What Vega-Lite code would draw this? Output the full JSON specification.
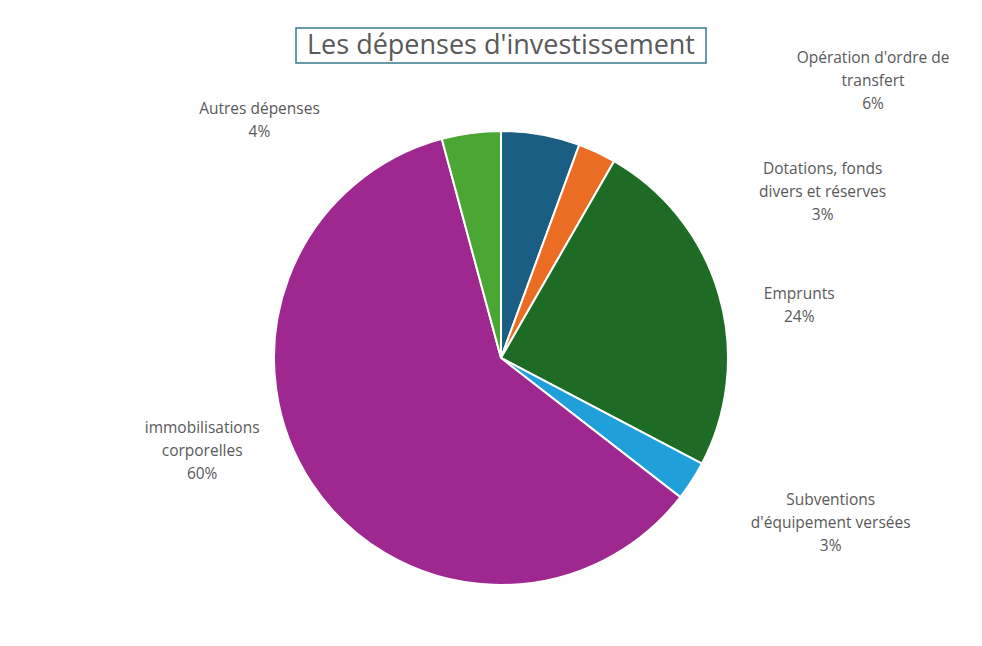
{
  "$schema": "https://vega.github.io/schema/vega-lite/v6.json",
  "padding": {"left": 40, "top": 27, "right": 20, "bottom": 4},
  "background": "white",
  "bounds": "flush",
  "spacing": 10,
  "center": true,
  "config": {
    "font": "Open Sans",
    "view": {"stroke": null},
    "text": {"font": "Open Sans", "color": "#595959", "fontSize": 15.5, "lineBreak": "\n", "lineHeight": 23}
  },
  "datasets": {
    "depenses": [
      {"ordre": 1, "categorie": "Opération d'ordre de transfert", "part": 5.6, "etiquette": "Opération d'ordre de\ntransfert\n6%"},
      {"ordre": 2, "categorie": "Dotations, fonds divers et réserves", "part": 2.7, "etiquette": "Dotations, fonds\ndivers et réserves\n3%"},
      {"ordre": 3, "categorie": "Emprunts", "part": 24.4, "etiquette": "Emprunts\n24%"},
      {"ordre": 4, "categorie": "Subventions d'équipement versées", "part": 2.8, "etiquette": "Subventions\nd'équipement versées\n3%"},
      {"ordre": 5, "categorie": "immobilisations corporelles", "part": 60.3, "etiquette": "immobilisations\ncorporelles\n60%"},
      {"ordre": 6, "categorie": "Autres dépenses", "part": 4.2, "etiquette": "Autres dépenses\n4%"}
    ],
    "titre": [{"texte": "Les dépenses d'investissement"}]
  },
  "vconcat": [
    {
      "width": 410,
      "height": 35,
      "view": {"stroke": "#3A7A8C", "strokeWidth": 1.5},
      "data": {"name": "titre"},
      "mark": {"type": "text", "fontSize": 27, "color": "#595959", "align": "center", "baseline": "middle"},
      "encoding": {"text": {"field": "texte", "type": "nominal"}}
    },
    {
      "width": 922,
      "height": 570,
      "view": {"stroke": null},
      "data": {"name": "depenses"},
      "transform": [
        {"stack": "part", "groupby": [], "sort": [{"field": "ordre", "order": "ascending"}], "as": ["debut", "fin"]}
      ],
      "layer": [
        {
          "mark": {"type": "arc", "radius": 227, "stroke": "white", "strokeWidth": 2},
          "encoding": {
            "theta": {"field": "debut", "type": "quantitative", "stack": null, "scale": {"domain": [0, 100]}},
            "theta2": {"field": "fin"},
            "color": {
              "field": "categorie", "type": "nominal", "legend": null,
              "scale": {
                "domain": ["Opération d'ordre de transfert", "Dotations, fonds divers et réserves", "Emprunts", "Subventions d'équipement versées", "immobilisations corporelles", "Autres dépenses"],
                "range": ["#1A5E83", "#EB6D24", "#1D6B25", "#1FA0DA", "#9E2890", "#4CA633"]
              }
            }
          }
        },
        {
          "transform": [{"filter": "datum.ordre === 1"}],
          "mark": {"type": "text", "radius": 478, "thetaOffset": 0.892, "align": "center", "baseline": "middle"},
          "encoding": {"theta": {"field": "debut", "type": "quantitative", "stack": null}, "text": {"field": "etiquette"}}
        },
        {
          "transform": [{"filter": "datum.ordre === 2"}],
          "mark": {"type": "text", "radius": 373, "thetaOffset": 0.688, "align": "center", "baseline": "middle"},
          "encoding": {"theta": {"field": "debut", "type": "quantitative", "stack": null}, "text": {"field": "etiquette"}}
        },
        {
          "transform": [{"filter": "datum.ordre === 3"}],
          "mark": {"type": "text", "radius": 305, "thetaOffset": 0.838, "align": "center", "baseline": "middle"},
          "encoding": {"theta": {"field": "debut", "type": "quantitative", "stack": null}, "text": {"field": "etiquette"}}
        },
        {
          "transform": [{"filter": "datum.ordre === 4"}],
          "mark": {"type": "text", "radius": 359, "thetaOffset": -0.077, "align": "center", "baseline": "middle"},
          "encoding": {"theta": {"field": "debut", "type": "quantitative", "stack": null}, "text": {"field": "etiquette"}}
        },
        {
          "transform": [{"filter": "datum.ordre === 5"}],
          "mark": {"type": "text", "radius": 307, "thetaOffset": 2.251, "align": "center", "baseline": "middle"},
          "encoding": {"theta": {"field": "debut", "type": "quantitative", "stack": null}, "text": {"field": "etiquette"}}
        },
        {
          "transform": [{"filter": "datum.ordre === 6"}],
          "mark": {"type": "text", "radius": 347, "thetaOffset": -0.506, "align": "center", "baseline": "middle"},
          "encoding": {"theta": {"field": "debut", "type": "quantitative", "stack": null}, "text": {"field": "etiquette"}}
        }
      ]
    }
  ]
}
